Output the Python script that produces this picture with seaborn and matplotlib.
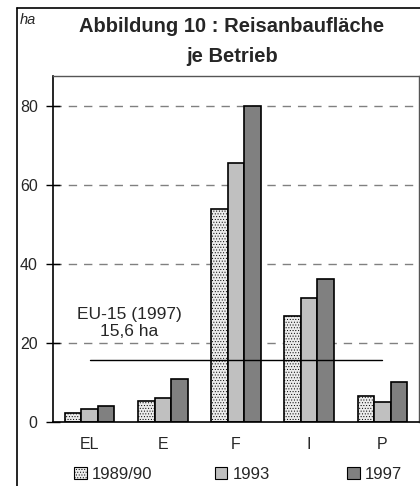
import matplotlib
matplotlib.use("Agg")
import matplotlib.pyplot as plt
import seaborn as sns
import pandas as pd
from matplotlib.patches import Patch
from matplotlib.lines import Line2D

countries = ["EL", "E", "F", "I", "P"]
years = ["1989/90", "1993", "1997"]
v_1989 = [2.1, 5.2, 53.8, 26.8, 6.4]
v_1993 = [3.2, 6.0, 65.5, 31.2, 4.9]
v_1997 = [4.0, 10.7, 80.0, 36.1, 10.1]
eu_avg = 15.6
eu_label = "EU-15 (1997)\n15,6 ha"
title_lines = ["Abbildung 10 : Reisanbaufläche", "je Betrieb"]
yticks = [0, 20, 40, 60, 80]

rows = []
for yr, vals in zip(years, [v_1989, v_1993, v_1997]):
    for c, v in zip(countries, vals):
        rows.append({"country": c, "year": yr, "value": v})
df = pd.DataFrame(rows)

sns.set_theme(style="white")
plt.rcParams["font.family"] = ["Liberation Sans", "DejaVu Sans"]
plt.rcParams["hatch.color"] = "#c2c2c2"
plt.rcParams["hatch.linewidth"] = 0.4

colors = ["#ececec", "#c0c0c0", "#808080"]
hatches = ["......", "", ""]

fig = plt.figure(figsize=(4.2, 4.86), dpi=100)
ax = fig.add_axes([53/420, 1-421.7/486, (419-53)/420, (421.7-76)/486])

sns.barplot(data=df, x="country", y="value", hue="year", order=countries,
            hue_order=years, palette=colors, width=0.68, gap=0,
            edgecolor="black", linewidth=1.2, ax=ax, legend=False,
            errorbar=None)
for cont, h in zip(ax.containers, hatches):
    for p in cont:
        p.set_hatch(h)

ax.set_xlim(-0.5, 4.5)
ax.set_ylim(0, 87.5)
ax.set_yticks(yticks)
ax.set_yticklabels([str(t) for t in yticks], fontsize=11.5)
ax.set_xticks(range(len(countries)))
ax.set_xticklabels(countries, fontsize=11.5)
ax.set_xticks([i - 0.5 for i in range(len(countries) + 1)], minor=True)
ax.tick_params(axis="x", which="major", length=0, pad=11)
ax.tick_params(axis="x", which="minor", direction="inout", length=10, width=1, color="black")
ax.tick_params(axis="y", direction="inout", length=10, width=1, color="black", pad=6, left=True)
ax.set_xlabel("")
ax.set_ylabel("")

for yv in yticks[1:]:
    ax.axhline(yv, color="#808080", lw=1, ls=(0, (6, 5)), zorder=0)

ax.plot([0, 4], [eu_avg, eu_avg], color="black", lw=1, zorder=5)
ax.text(0.54, 25.0, eu_label, ha="center", va="center", fontsize=12.5, linespacing=1.15)

for s in ["left", "bottom"]:
    ax.spines[s].set_color("black")
    ax.spines[s].set_linewidth(1.2)
for s in ["top", "right"]:
    ax.spines[s].set_color("#555555")
    ax.spines[s].set_linewidth(1)

fig.text(232/420, 1-26/486, title_lines[0], ha="center", va="center", fontsize=14.5,
         fontweight="bold")
fig.text(232/420, 1-56/486, title_lines[1], ha="center", va="center", fontsize=14.5,
         fontweight="bold")
fig.text(20/420, 1-20/486, "ha", ha="left", va="center", fontsize=10.5, style="italic")

fig.add_artist(Line2D([17/420, 17/420], [0, 1-8/486], color="black", lw=1.2))
fig.add_artist(Line2D([17/420, 1], [1-8/486, 1-8/486], color="black", lw=1.2))

legend_x = [74, 215, 347]
for c, h, lab, lx in zip(colors, hatches, years, legend_x):
    handle = Patch(facecolor=c, edgecolor="black", lw=0.8, hatch=h)
    fig.legend([handle], [lab], loc="center left", bbox_to_anchor=(lx/420, 1-474/486),
               frameon=False, fontsize=12, handlelength=0.75, handleheight=0.75,
               handletextpad=0.3, borderpad=0, borderaxespad=0)

fig.savefig("out.png", dpi=100)
